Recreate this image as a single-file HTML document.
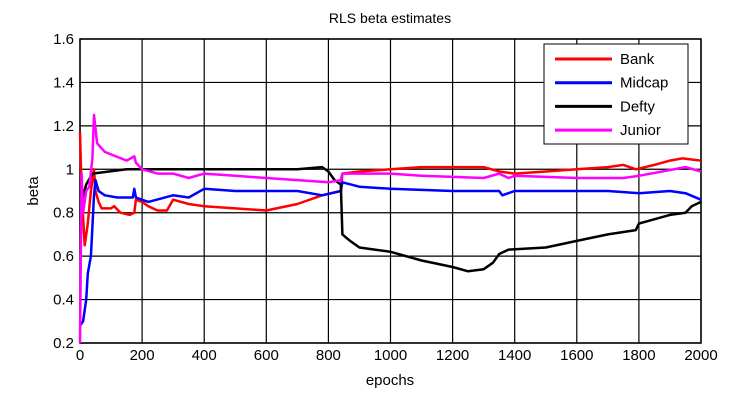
<!DOCTYPE html>
<html><head><meta charset="utf-8"><style>
body{margin:0;background:#fff}
svg{display:block;font-family:"Liberation Sans",sans-serif}
</style></head><body>
<svg id="c" width="745" height="403"></svg>
<script>
const xTicks=[0,200,400,600,800,1000,1200,1400,1600,1800,2000];
const yTicks=[0.2,0.4,0.6,0.8,1,1.2,1.4,1.6];
const bankX=[0,5,15,25,35,45,50,60,70,100,110,130,160,175,180,200,220,250,280,300,350,400,500,600,700,780,840,845,900,1000,1100,1200,1300,1350,1400,1500,1600,1700,1750,1790,1850,1900,1940,2000];
const bankY=[1.17,0.9,0.65,0.75,0.9,1.0,0.9,0.85,0.82,0.82,0.83,0.8,0.79,0.8,0.86,0.85,0.83,0.81,0.81,0.86,0.84,0.83,0.82,0.81,0.84,0.88,0.9,0.98,0.99,1.0,1.01,1.01,1.01,0.99,0.98,0.99,1.0,1.01,1.02,1.0,1.02,1.04,1.05,1.04];
const midX=[0,10,20,25,35,45,50,60,80,120,170,175,180,220,300,350,400,500,600,700,780,840,845,900,1000,1200,1350,1360,1400,1600,1700,1800,1900,1950,2000];
const midY=[0.28,0.3,0.4,0.52,0.6,0.88,0.95,0.9,0.88,0.87,0.87,0.91,0.87,0.85,0.88,0.87,0.91,0.9,0.9,0.9,0.88,0.9,0.94,0.92,0.91,0.9,0.9,0.88,0.9,0.9,0.9,0.89,0.9,0.89,0.86];
const deftyX=[5,20,40,150,700,780,800,820,840,845,870,900,1000,1100,1200,1250,1300,1330,1350,1380,1500,1600,1700,1790,1800,1900,1950,1970,2000];
const deftyY=[0.85,0.93,0.98,1.0,1.0,1.01,0.99,0.95,0.93,0.7,0.67,0.64,0.62,0.58,0.55,0.53,0.54,0.57,0.61,0.63,0.64,0.67,0.7,0.72,0.75,0.79,0.8,0.83,0.85];
const junX=[0,5,10,20,30,40,45,55,80,150,175,180,200,250,300,350,400,500,600,700,800,840,845,900,1000,1100,1300,1350,1380,1400,1600,1750,1800,1950,2000];
const junY=[0.2,0.98,0.8,0.9,0.92,1.05,1.25,1.12,1.08,1.04,1.06,1.03,1.0,0.98,0.98,0.96,0.98,0.97,0.96,0.95,0.94,0.95,0.98,0.98,0.98,0.97,0.96,0.98,0.96,0.97,0.96,0.96,0.97,1.01,0.99];
const L=80,R=701,T=39,B=343;
const sx=v=>L+(v/2000)*(R-L);
const sy=v=>B-(v-0.2)/1.4*(B-T);
const svg=document.getElementById('c');
const NS='http://www.w3.org/2000/svg';
function mk(tag,attrs,parent){const e=document.createElementNS(NS,tag);for(const k in attrs)e.setAttribute(k,attrs[k]);(parent||svg).appendChild(e);return e;}
const t=mk('text',{x:390,y:23,'text-anchor':'middle','font-size':14});t.textContent='RLS beta estimates';


xTicks.forEach(v=>{const x=sx(v);
 const g=mk('line',{x1:x,x2:x,y1:T,y2:B,stroke:'#000','stroke-width':1.2});
 
 
 const l=mk('text',{x:x,y:360,'text-anchor':'middle','font-size':15});l.textContent=v;
 
 });
yTicks.forEach(v=>{const y=sy(v);
 const g=mk('line',{x1:L,x2:R,y1:y,y2:y,stroke:'#000','stroke-width':1.2});
 
 
 const l=mk('text',{x:74,y:y+5,'text-anchor':'end','font-size':15});l.textContent=v===1?'1':v.toFixed(1);
 
 });
const fr=mk('rect',{x:L,y:T,width:R-L,height:B-T,fill:'none',stroke:'#000','stroke-width':1.5});


const xl=mk('text',{x:390,y:385,'text-anchor':'middle','font-size':15});xl.textContent='epochs';


const yl=mk('text',{x:0,y:0,'text-anchor':'middle','font-size':15,transform:'translate(38,191) rotate(-90)'});yl.textContent='beta';


const series=[[bankX,bankY,'#ff0000','bank-line'],[midX,midY,'#0000ff','midcap-line'],[deftyX,deftyY,'#000000','defty-line'],[junX,junY,'#ff00ff','junior-line']];
series.forEach(s=>{const d=s[0].map((x,i)=>(i?'L':'M')+sx(x).toFixed(1)+','+sy(s[1][i]).toFixed(1)).join('');
 const p=mk('path',{d:d,fill:'none',stroke:s[2],'stroke-width':2.5,'stroke-linejoin':'round'});
 
 });
const lg=mk('g',{});


mk('rect',{x:544,y:44,width:144,height:100,fill:'#fff',stroke:'#000','stroke-width':1},lg);
const names=['Bank','Midcap','Defty','Junior'],cols=['#ff0000','#0000ff','#000000','#ff00ff'];
names.forEach((n,i)=>{const y=59+i*23.7;
 const e=mk('g',{},lg);
 
 
 mk('line',{x1:555,x2:612,y1:y,y2:y,stroke:cols[i],'stroke-width':3},e);
 const tx=mk('text',{x:620,y:y+5,'font-size':15},e);tx.textContent=n;});
</script>
</body></html>
